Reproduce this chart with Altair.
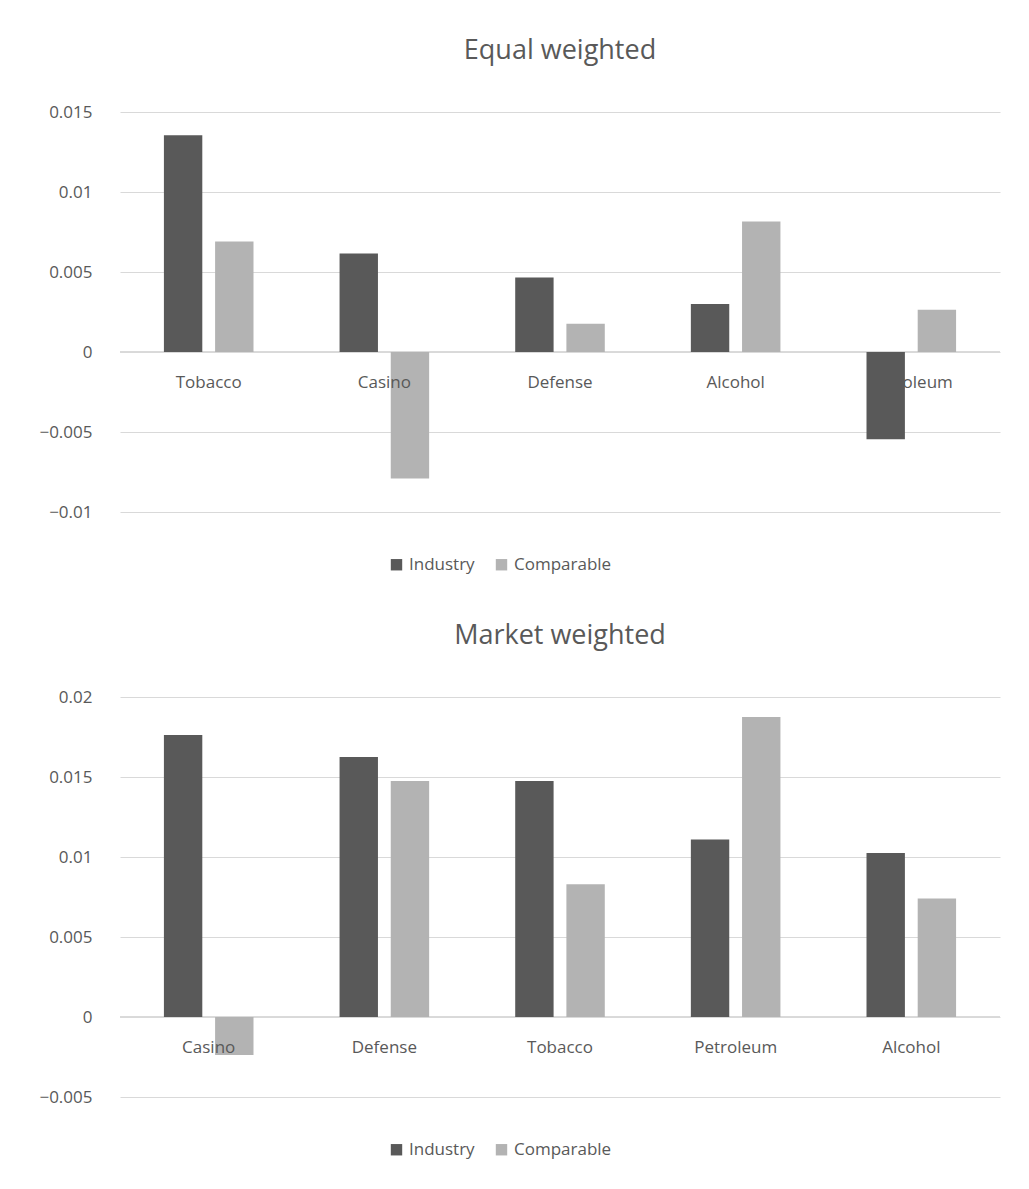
import altair as alt
import pandas as pd

series = ["Industry", "Comparable"]

eq_categories = ["Tobacco", "Casino", "Defense", "Alcohol", "Petroleum"]
eq_industry = [0.01355, 0.00615, 0.00465, 0.0030, -0.00546]
eq_comparable = [0.0069, -0.0079, 0.00176, 0.00815, 0.00264]

mw_categories = ["Casino", "Defense", "Tobacco", "Petroleum", "Alcohol"]
mw_industry = [0.01763, 0.01625, 0.01475, 0.0111, 0.01025]
mw_comparable = [-0.00238, 0.01475, 0.0083, 0.01875, 0.0074]

GREY = "#595959"
FONT = "Open Sans"


def panel(title, categories, industry, comparable, domain, ticks):
    rows = []
    for cat, a, b in zip(categories, industry, comparable):
        rows.append({"Category": cat, "Series": "Industry", "Value": a})
        rows.append({"Category": cat, "Series": "Comparable", "Value": b})
    frame = pd.DataFrame(rows)
    labels = pd.DataFrame({"Category": categories, "zero": [0] * len(categories)})

    x = alt.X("Category:N", sort=categories, axis=None,
              scale=alt.Scale(paddingInner=0.49, paddingOuter=0.25))
    y_scale = alt.Scale(domain=domain, nice=False)

    bars = alt.Chart(frame).mark_bar().encode(
        x=x,
        xOffset=alt.XOffset("Series:N", sort=series, scale=alt.Scale(paddingInner=0.25)),
        y=alt.Y("Value:Q", scale=y_scale, title=None,
                axis=alt.Axis(values=ticks, format="~g", domain=False, ticks=False,
                              labelPadding=28, labelFontSize=17, labelColor=GREY,
                              labelFont=FONT, gridColor="#d9d9d9")),
        color=alt.Color("Series:N", sort=series,
                        scale=alt.Scale(domain=series, range=["#595959", "#b3b3b3"]),
                        legend=alt.Legend(orient="none", legendX=268, legendY=444,
                                          direction="horizontal", title=None,
                                          symbolType="square", symbolSize=130,
                                          labelFontSize=17, labelColor=GREY,
                                          labelFont=FONT, columnPadding=18)),
    )
    zero = alt.Chart(labels).mark_rule(color="#d9d9d9").encode(y=alt.Y("zero:Q", scale=y_scale))
    text = alt.Chart(labels).mark_text(dy=31, fontSize=17, color=GREY, font=FONT).encode(
        x=x, y=alt.Y("zero:Q", scale=y_scale), text="Category:N"
    )
    return alt.layer(zero, bars, text).properties(
        width=880, height=400,
        title=alt.TitleParams(title, fontSize=27, fontWeight="normal", color=GREY,
                              font=FONT, offset=38),
    )


top = panel("Equal weighted", eq_categories, eq_industry, eq_comparable,
            [-0.01, 0.015], [-0.01, -0.005, 0, 0.005, 0.01, 0.015])
bottom = panel("Market weighted", mw_categories, mw_industry, mw_comparable,
               [-0.005, 0.02], [-0.005, 0, 0.005, 0.01, 0.015, 0.02])

chart = alt.vconcat(top, bottom, spacing=49).resolve_legend(color="independent").properties(
    padding={"left": 30, "top": 29, "right": 10, "bottom": 10}
).configure_view(stroke=None)

chart.save("out.html", embed_options={"renderer": "svg", "actions": False})
